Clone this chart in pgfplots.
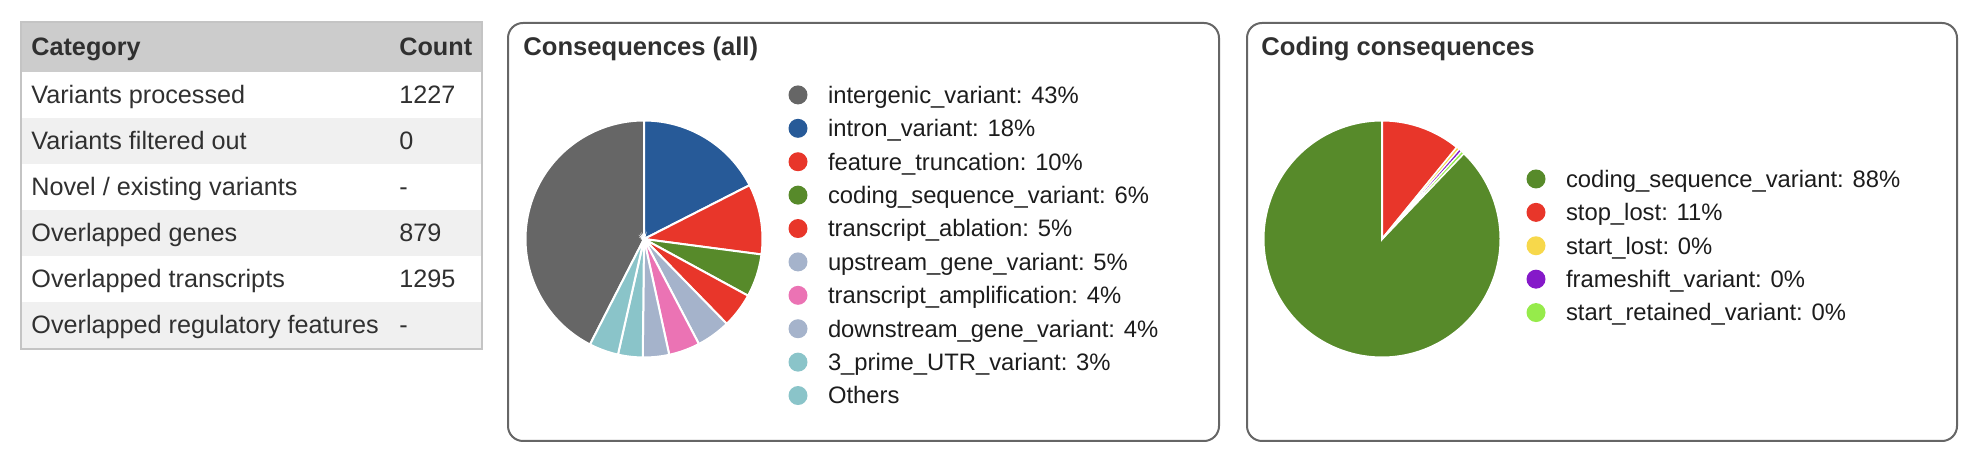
\documentclass[border=0pt]{standalone}
\usepackage{pgfplots}
\pgfplotsset{compat=1.18}
\usepgfplotslibrary{polar}
\usepackage{fontspec}
\setmainfont{Liberation Sans}
\definecolor{cGray}{HTML}{666666}
\definecolor{cBlue}{HTML}{275A98}
\definecolor{cRed}{HTML}{E8362A}
\definecolor{cGreen}{HTML}{578A2A}
\definecolor{cPale}{HTML}{A5B3CB}
\definecolor{cPink}{HTML}{EB73B4}
\definecolor{cTeal}{HTML}{8AC4C9}
\definecolor{cYellow}{HTML}{F7D84B}
\definecolor{cPurple}{HTML}{8519C9}
\definecolor{cLGreen}{HTML}{96EB4B}
\definecolor{hdr}{HTML}{CCCCCC}
\definecolor{rowg}{HTML}{F0F0F0}
\definecolor{tbord}{HTML}{C4C4C4}
\definecolor{panel}{HTML}{666666}
\definecolor{tcol}{HTML}{303030}
\definecolor{legtext}{HTML}{1C1C1C}
\newcommand{\tfont}{\fontsize{12.6}{15}\selectfont}
\newcommand{\ttlfont}{\fontsize{12.8}{15}\selectfont\bfseries}
\pgfplotsset{
  pie/.style={
    scale only axis, width=118.5pt, height=118.5pt,
    hide axis, ymin=0, ymax=1, clip=false,
    legend cell align=left,
    legend image code/.code={\fill[##1, draw=none] (4.75pt,0pt) circle (4.75pt);
      \path[draw=none, fill=none] (0pt,0pt) -- (19.75pt,0pt);},
    legend style={draw=none, fill=none, inner sep=0pt, outer sep=0pt,
      row sep=0pt, column sep=0pt, text=legtext,
      font=\fontsize{11.9}{14}\selectfont,
      nodes={inner sep=0pt, text height=12.5pt, text depth=4.2pt}},
  },
  slice/.style={fill=#1, draw=white, line width=1pt},
}
\begin{document}
\begin{tikzpicture}
\path[use as bounding box] (0pt,0pt) rectangle (988pt,-229pt);
\begin{scope}[x=0.5pt,y=-0.5pt]
% ---- summary table ----
\fill[hdr] (21,22) rectangle (482,72);
\fill[white] (21,72) rectangle (482,118);
\fill[rowg] (21,118) rectangle (482,164);
\fill[white] (21,164) rectangle (482,210);
\fill[rowg] (21,210) rectangle (482,256);
\fill[white] (21,256) rectangle (482,302);
\fill[rowg] (21,302) rectangle (482,349);
\draw[tbord, line width=1pt] (21,22) rectangle (482,349);
\begin{scope}[every node/.style={anchor=base west, inner sep=0pt, text=tcol, font=\tfont}]
\node[font=\tfont\bfseries] at (31,56) {Category};
\node[font=\tfont\bfseries] at (399,56) {Count};
\node at (31,104) {Variants processed};            \node at (399,104) {1227};
\node at (31,150) {Variants filtered out};         \node at (399,150) {0};
\node at (31,196) {Novel / existing variants};     \node at (399,196) {-};
\node at (31,242) {Overlapped genes};              \node at (399,242) {879};
\node at (31,288) {Overlapped transcripts};        \node at (399,288) {1295};
\node at (31,334) {Overlapped regulatory features};\node at (399,334) {-};
\end{scope}
% ---- panels ----
\draw[panel, line width=1pt, rounded corners=7.5pt] (508,23) rectangle (1219,441);
\draw[panel, line width=1pt, rounded corners=7.5pt] (1247,23) rectangle (1957,441);
\node[anchor=base west, inner sep=0pt, text=tcol, font=\ttlfont] at (523,56) {Consequences (all)};
\node[anchor=base west, inner sep=0pt, text=tcol, font=\ttlfont] at (1261,56) {Coding consequences};
\end{scope}
% ---- pie 1: Consequences (all); angles in degrees, counter-clockwise from east ----
\begin{polaraxis}[pie, at={(322pt,-119.5pt)}, anchor=center,
  legend style={at={(1.1097,1.1783)}, anchor=north west}]
\addplot[slice=cGray, domain=90:242.9, samples=90] {1} -- (axis cs:0,0) -- cycle;
\addlegendentry{intergenic\_variant: 43\%}
\addplot[slice=cBlue, domain=27:90, samples=40] {1} -- (axis cs:0,0) -- cycle;
\addlegendentry{intron\_variant: 18\%}
\addplot[slice=cRed, domain=-7.5:27, samples=25] {1} -- (axis cs:0,0) -- cycle;
\addlegendentry{feature\_truncation: 10\%}
\addplot[slice=cGreen, domain=-28.6:-7.5, samples=15] {1} -- (axis cs:0,0) -- cycle;
\addlegendentry{coding\_sequence\_variant: 6\%}
\addplot[slice=cRed, domain=-45.7:-28.6, samples=15] {1} -- (axis cs:0,0) -- cycle;
\addlegendentry{transcript\_ablation: 5\%}
\addplot[slice=cPale, domain=-62.4:-45.7, samples=15] {1} -- (axis cs:0,0) -- cycle;
\addlegendentry{upstream\_gene\_variant: 5\%}
\addplot[slice=cPink, domain=-77.7:-62.4, samples=15] {1} -- (axis cs:0,0) -- cycle;
\addlegendentry{transcript\_amplification: 4\%}
\addplot[slice=cPale, domain=-90.6:-77.7, samples=12] {1} -- (axis cs:0,0) -- cycle;
\addlegendentry{downstream\_gene\_variant: 4\%}
\addplot[slice=cTeal, domain=-102.7:-90.6, samples=12] {1} -- (axis cs:0,0) -- cycle;
\addlegendentry{3\_prime\_UTR\_variant: 3\%}
\addplot[slice=cTeal, domain=-117.1:-102.7, samples=12] {1} -- (axis cs:0,0) -- cycle;
\addlegendentry{Others}
\end{polaraxis}
% ---- pie 2: Coding consequences ----
\begin{polaraxis}[pie, at={(691pt,-119.5pt)}, anchor=center,
  legend style={at={(1.1097,0.8238)}, anchor=north west}]
\addplot[slice=cGreen, domain=-270:46.3, samples=180] {1} -- (axis cs:0,0) -- cycle;
\addlegendentry{coding\_sequence\_variant: 88\%}
\addplot[slice=cRed, domain=50.8:90, samples=30] {1} -- (axis cs:0,0) -- cycle;
\addlegendentry{stop\_lost: 11\%}
\addplot[slice=cYellow, line width=0.6pt, domain=49.3:50.8, samples=3] {1} -- (axis cs:0,0) -- cycle;
\addlegendentry{start\_lost: 0\%}
\addplot[slice=cPurple, line width=0.6pt, domain=47.8:49.3, samples=3] {1} -- (axis cs:0,0) -- cycle;
\addlegendentry{frameshift\_variant: 0\%}
\addplot[slice=cLGreen, line width=0.6pt, domain=46.3:47.8, samples=3] {1} -- (axis cs:0,0) -- cycle;
\addlegendentry{start\_retained\_variant: 0\%}
\end{polaraxis}
\end{tikzpicture}
\end{document}
